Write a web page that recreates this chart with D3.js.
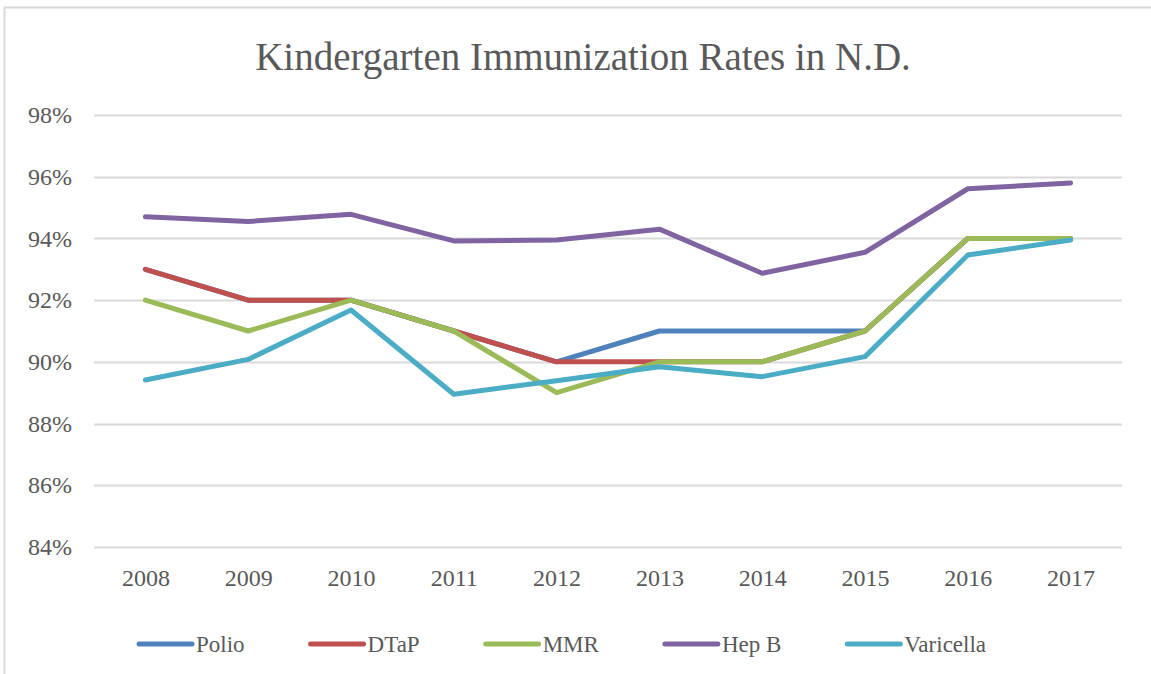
<!DOCTYPE html>
<html>
<head>
<meta charset="utf-8">
<script src="https://cdnjs.cloudflare.com/ajax/libs/d3/7.8.5/d3.min.js"></script>
<style>
  body { margin: 0; background: #fff; }
  text { font-family: "Liberation Serif", "DejaVu Serif", serif; fill: #595959; }
</style>
</head>
<body>
<svg id="chart"></svg>
<script>
// Chart data
const years = ["2008", "2009", "2010", "2011", "2012", "2013", "2014", "2015", "2016", "2017"];
const yTicks = [84, 86, 88, 90, 92, 94, 96, 98];
const polio = [93, 92, 92, 91, 90, 91, 91, 91, 94, 94];
const dtap = [93, 92, 92, 91, 90, 90, 90, 91, 94, 94];
const mmr = [92, 91, 92, 91, 89, 90, 90, 91, 94, 94];
const hepB = [94.7, 94.55, 94.78, 93.92, 93.95, 94.3, 92.87, 93.55, 95.61, 95.8];
const varicella = [89.41, 90.08, 91.68, 88.95, 89.39, 89.84, 89.52, 90.17, 93.46, 93.95];
const seriesNames = ["Polio", "DTaP", "MMR", "Hep B", "Varicella"];
const seriesValues = [polio, dtap, mmr, hepB, varicella];
const colors = ["#4F81BD", "#C0504D", "#9BBB59", "#8064A2", "#4BACC6"];

const W = 1151, H = 674;
const margin = { top: 115, right: 29, bottom: 127, left: 94 };
const width = W - margin.left - margin.right;
const height = H - margin.top - margin.bottom;

const svg = d3.select("#chart")
    .attr("width", W)
    .attr("height", H);

// Outer chart border
svg.append("rect")
    .attr("x", 4.5).attr("y", 7.5)
    .attr("width", W + 10).attr("height", H + 10)
    .attr("fill", "none")
    .attr("stroke", "#d9d9d9")
    .attr("stroke-width", 2);

// Title
svg.append("text")
    .attr("x", 583)
    .attr("y", 70)
    .attr("text-anchor", "middle")
    .style("font-size", "39px")
    .text("Kindergarten Immunization Rates in N.D.");

const g = svg.append("g")
    .attr("transform", `translate(${margin.left},${margin.top})`);

const x = d3.scalePoint()
    .domain(years)
    .range([0, width])
    .padding(0.5);

const y = d3.scaleLinear()
    .domain([84, 98])
    .range([height, 0]);

// Gridlines
g.selectAll(".grid")
    .data(yTicks)
    .enter().append("line")
    .attr("class", "grid")
    .attr("x1", 0)
    .attr("x2", width)
    .attr("y1", d => Math.round(y(d)) + 0.5)
    .attr("y2", d => Math.round(y(d)) + 0.5)
    .attr("stroke", "#d9d9d9")
    .attr("stroke-width", 2);

// Y axis labels
const yAxis = g.append("g")
    .call(d3.axisLeft(y).tickValues(yTicks).tickFormat(d => d + "%").tickSize(0).tickPadding(22));
yAxis.select(".domain").remove();
yAxis.selectAll("text")
    .style("font-size", "24px")
    .attr("fill", "#595959")
    .style("font-family", null);

// X axis labels
const xAxis = g.append("g")
    .attr("transform", `translate(0,${height})`)
    .call(d3.axisBottom(x).tickSize(0).tickPadding(22));
xAxis.select(".domain").remove();
xAxis.selectAll("text")
    .style("font-size", "24px")
    .attr("fill", "#595959")
    .style("font-family", null);

// Lines
const line = d3.line()
    .x((d, i) => x(years[i]))
    .y(d => y(d));

g.selectAll(".series")
    .data(seriesValues)
    .enter().append("path")
    .attr("class", "series")
    .attr("d", d => line(d))
    .attr("fill", "none")
    .attr("stroke", (d, i) => colors[i])
    .attr("stroke-width", 5)
    .attr("stroke-linejoin", "round")
    .attr("stroke-linecap", "round");

// Legend
const legend = svg.append("g")
    .attr("transform", "translate(0,644)");
let lx = 139;
seriesNames.forEach((name, i) => {
    const item = legend.append("g").attr("transform", `translate(${lx},0)`);
    item.append("line")
        .attr("x1", 0).attr("x2", 53)
        .attr("y1", 0).attr("y2", 0)
        .attr("stroke", colors[i])
        .attr("stroke-width", 5)
        .attr("stroke-linecap", "round");
    const t = item.append("text")
        .attr("x", 57)
        .attr("y", 8)
        .style("font-size", "23px")
        .text(name);
    lx += 57 + t.node().getComputedTextLength() + 66;
});
</script>
</body>
</html>
